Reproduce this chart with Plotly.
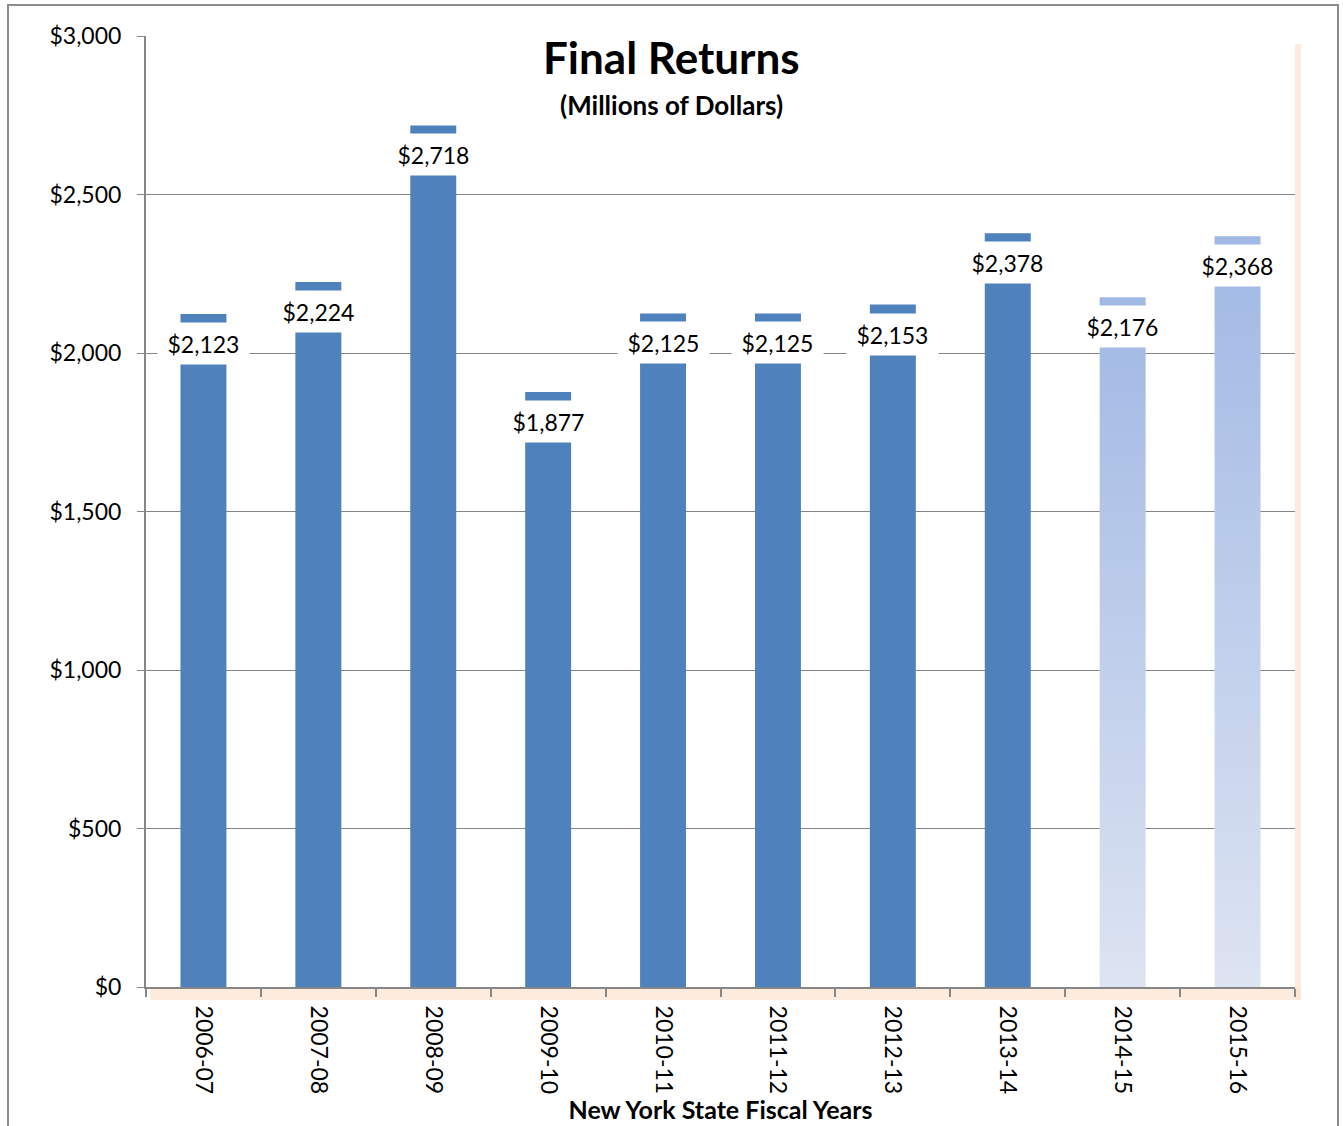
import plotly.graph_objects as go

years = ["2006-07", "2007-08", "2008-09", "2009-10", "2010-11",
         "2011-12", "2012-13", "2013-14", "2014-15", "2015-16"]
values = [2123, 2224, 2718, 1877, 2125, 2125, 2153, 2378, 2176, 2368]
projected = [False, False, False, False, False, False, False, False, True, True]

FONT = "Lato"
SOLID = "#4F81BD"
GRAD_TOP = "#A0B8E4"
GRAD_BOT = "#DDE4F2"
GRID = "#868686"
BAR_W = 0.4

W, H = 1343, 1126
L, R, T, B = 146, 48, 36, 139
PW, PH = W - L - R, H - T - B


def px_x(px):
    return (px - L) / PW


def px_y(py):
    return (H - B - py) / PH


fig = go.Figure()

# solid (actual) bars on categorical axis
fig.add_trace(go.Bar(
    x=years, y=values, width=BAR_W,
    marker=dict(color=[("rgba(0,0,0,0)" if p else SOLID) for p in projected],
                line=dict(width=0)),
    showlegend=False, hoverinfo="x+y",
))

# projected bars with vertical gradient, drawn on an overlaid numeric axis
for i, (v, p) in enumerate(zip(values, projected)):
    if not p:
        continue
    xs = [i - BAR_W / 2, i + BAR_W / 2, i + BAR_W / 2, i - BAR_W / 2, i - BAR_W / 2]
    ys = [0, 0, v, v, 0]
    fig.add_trace(go.Scatter(
        x=xs, y=ys, xaxis="x2", mode="lines", line=dict(width=0),
        fill="toself",
        fillgradient=dict(type="vertical",
                          colorscale=[[0, GRAD_BOT], [1, GRAD_TOP]]),
        showlegend=False, hoverinfo="skip",
    ))

# value labels with white boxes (cover part of the bar top)
for yr, v in zip(years, values):
    fig.add_annotation(
        x=yr, y=v, xref="x", yref="y", text="$" + format(v, ","),
        showarrow=False, yanchor="top", yshift=-8,
        width=91, height=41, bgcolor="white", borderpad=0,
        font=dict(family=FONT, size=23, color="black"),
    )

# title & subtitle
fig.add_annotation(x=(W / 2 - L) / PW, y=px_y(57), xref="paper", yref="paper",
                   yanchor="middle", text="<b>Final Returns</b>",
                   showarrow=False, font=dict(family=FONT, size=44, color="black"))
fig.add_annotation(x=(W / 2 - L) / PW, y=px_y(105), xref="paper", yref="paper",
                   yanchor="middle", text="<b>(Millions of Dollars)</b>",
                   showarrow=False, font=dict(family=FONT, size=26, color="black"))

shapes = [
    # peach shadow right
    dict(type="rect", xref="paper", yref="paper", x0=1, x1=px_x(1301), y0=px_y(999), y1=px_y(44),
         fillcolor="rgba(252,228,210,0.75)", line=dict(width=0), layer="below"),
    # peach shadow bottom
    dict(type="rect", xref="paper", yref="paper", x0=px_x(150), x1=px_x(1301), y0=px_y(1000), y1=0,
         fillcolor="rgba(252,228,210,0.75)", line=dict(width=0), layer="below"),
    # outer chart border
    dict(type="rect", xref="paper", yref="paper", x0=px_x(8), x1=px_x(1338), y0=px_y(1140), y1=px_y(5),
         fillcolor="rgba(0,0,0,0)", line=dict(color="#8C8C8C", width=2)),
]

fig.update_layout(
    width=W, height=H,
    margin=dict(l=L, r=R, t=T, b=B),
    paper_bgcolor="white", plot_bgcolor="white",
    font=dict(family=FONT, size=23, color="black"),
    shapes=shapes,
    bargap=0.6,
    xaxis=dict(
        type="category", tickangle=90, tickson="boundaries",
        ticks="outside", ticklen=8, tickcolor=GRID, tickwidth=2,
        ticklabelstandoff=12,
        showline=True, linecolor=GRID, linewidth=2,
        showgrid=False, range=[-0.5, 9.5],
        tickfont=dict(family=FONT, size=23, color="black"),
        title=dict(text="<b>New York State Fiscal Years</b>", standoff=2,
                   font=dict(family=FONT, size=25, color="black")),
    ),
    xaxis2=dict(overlaying="x", range=[-0.5, 9.5], visible=False, showgrid=False),
    yaxis=dict(
        range=[0, 3000], dtick=500, tickprefix="$", tickformat=",",
        ticks="outside", ticklen=7, tickcolor=GRID, tickwidth=1,
        ticklabelstandoff=11,
        showline=True, linecolor=GRID, linewidth=2,
        showgrid=True, gridcolor=GRID, gridwidth=1,
        zeroline=False,
        tickfont=dict(family=FONT, size=23, color="black"),
    ),
)

fig.write_html("out.html", config={"displayModeBar": False},
               post_script="document.body.style.margin='0';document.body.style.overflow='hidden';")
